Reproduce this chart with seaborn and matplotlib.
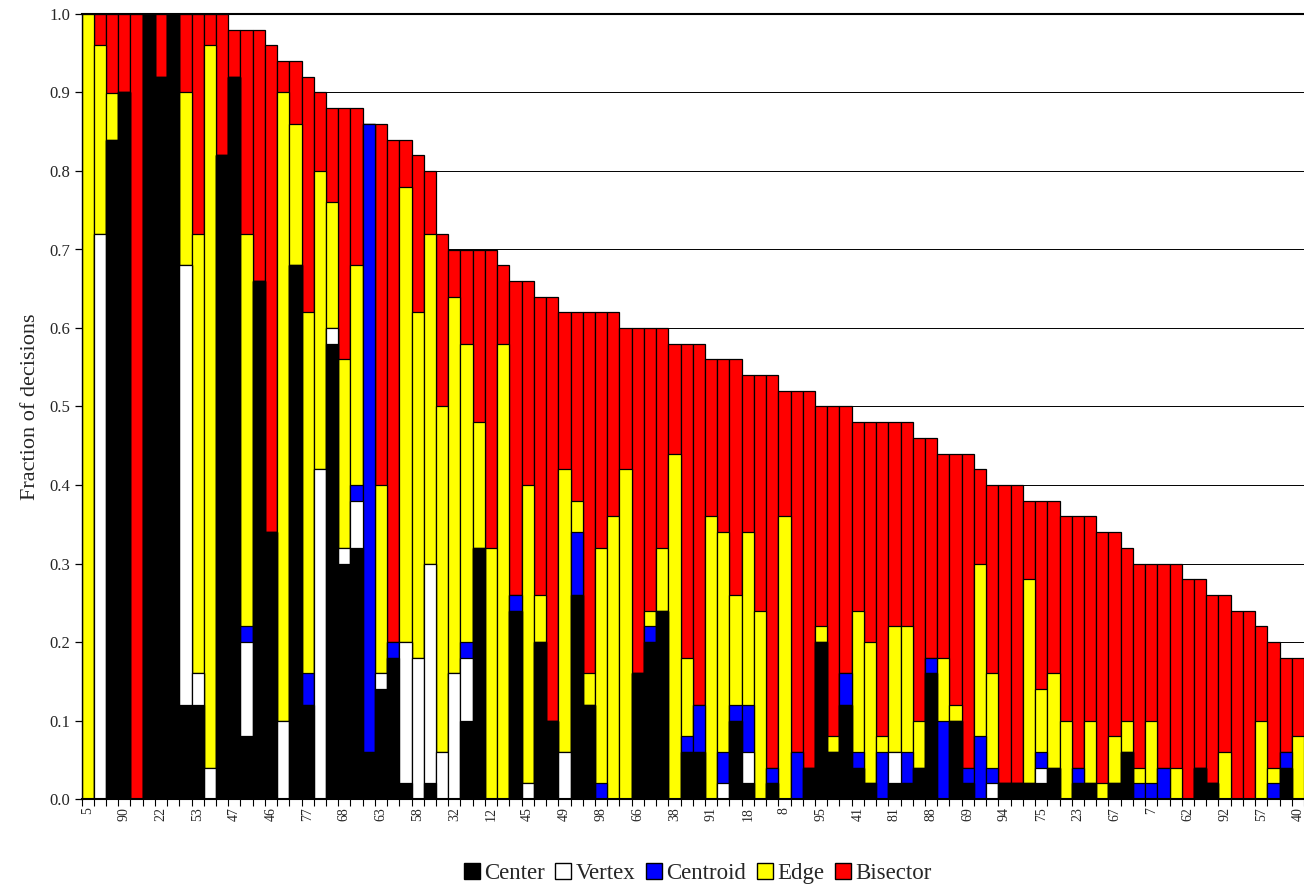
import numpy as np
import pandas as pd
import matplotlib
matplotlib.use("Agg")
import matplotlib.pyplot as plt
import seaborn as sns
from matplotlib.patches import Patch
from matplotlib.ticker import FixedLocator, MultipleLocator, FormatStrFormatter

# Labels printed under every third bar
tick_labels = ["5", "90", "22", "53", "47", "46", "77", "68", "63", "58", "32",
               "12", "45", "49", "98", "66", "38", "91", "18", "8", "95", "41",
               "81", "88", "69", "94", "75", "23", "67", "7", "62", "92", "57", "40"]

series_names = ["Center", "Vertex", "Centroid", "Edge", "Bisector"]
series_colors = ["#000000", "#FFFFFF", "#0000FF", "#FFFF00", "#FF0000"]

# Fraction of decisions per bar, one list per decision type (bottom to top)
center = [0, 0, .84, .90, 0, 1.00, .92, 1.00, .12, .12,
          0, .82, .92, .08, .66, .34, 0, .68, .12, 0,
          .58, .30, .32, .06, .14, .18, .02, 0, .02, 0,
          0, .10, .32, 0, 0, .24, 0, .20, .10, 0,
          .26, .12, 0, 0, 0, .16, .20, .24, 0, .06,
          .06, 0, 0, .10, .02, 0, .02, 0, 0, .04,
          .20, .06, .12, .04, .02, 0, .02, .02, .04, .16,
          0, .10, .02, 0, 0, .02, .02, .02, .02, .04,
          0, .02, .02, 0, .02, .06, 0, 0, 0, 0,
          0, .04, .02, 0, 0, 0, 0, 0, .04, 0]
vertex = [0, .72, 0, 0, 0, 0, 0, 0, .56, .04,
          .04, 0, 0, .12, 0, 0, .10, 0, 0, .42,
          .02, .02, .06, 0, .02, 0, .18, .18, .28, .06,
          .16, .08, 0, 0, 0, 0, .02, 0, 0, .06,
          0, 0, 0, 0, 0, 0, 0, 0, 0, 0,
          0, 0, .02, 0, .04, 0, 0, 0, 0, 0,
          0, 0, 0, 0, 0, 0, .04, 0, 0, 0,
          0, 0, 0, 0, .02, 0, 0, 0, .02, 0,
          0, 0, 0, 0, 0, 0, 0, 0, 0, 0,
          0, 0, 0, 0, 0, 0, 0, 0, 0, 0]
centroid = [0, 0, 0, 0, 0, 0, 0, 0, 0, 0,
            0, 0, 0, .02, 0, 0, 0, 0, .04, 0,
            0, 0, .02, .80, 0, .02, 0, 0, 0, 0,
            0, .02, 0, 0, 0, .02, 0, 0, 0, 0,
            .08, 0, .02, 0, 0, 0, .02, 0, 0, .02,
            .06, 0, .04, .02, .06, 0, .02, 0, .06, 0,
            0, 0, .04, .02, 0, .06, 0, .04, 0, .02,
            .10, 0, .02, .08, .02, 0, 0, 0, .02, 0,
            0, .02, 0, 0, 0, 0, .02, .02, .04, 0,
            0, 0, 0, 0, 0, 0, 0, .02, .02, 0]
edge = [1.00, .24, .06, 0, 0, 0, 0, 0, .22, .56,
        .92, 0, 0, .50, 0, 0, .80, .18, .46, .38,
        .16, .24, .28, 0, .24, 0, .58, .44, .42, .44,
        .48, .38, .16, .32, .58, 0, .38, .06, 0, .36,
        .04, .04, .30, .36, .42, 0, .02, .08, .44, .10,
        0, .36, .28, .14, .22, .24, 0, .36, 0, 0,
        .02, .02, 0, .18, .18, .02, .16, .16, .06, 0,
        .08, .02, 0, .22, .12, 0, 0, .26, .08, .12,
        .10, 0, .08, .02, .06, .04, .02, .08, 0, .04,
        0, 0, 0, .06, 0, 0, .10, .02, 0, .08]
bisector = [0, .04, .10, .10, 1.00, 0, .08, 0, .10, .28,
            .04, .18, .06, .26, .32, .62, .04, .08, .30, .10,
            .12, .32, .20, 0, .46, .64, .06, .20, .08, .22,
            .06, .12, .22, .38, .10, .40, .26, .38, .54, .20,
            .24, .46, .30, .26, .18, .44, .36, .28, .14, .40,
            .46, .20, .22, .30, .20, .30, .50, .16, .46, .48,
            .28, .42, .34, .24, .28, .40, .26, .26, .36, .28,
            .26, .32, .40, .12, .24, .38, .38, .10, .24, .22,
            .26, .32, .26, .32, .26, .22, .26, .20, .26, .26,
            .28, .24, .24, .20, .24, .24, .12, .16, .12, .10]

n_bars = len(center)
df = pd.DataFrame({"bar": np.arange(n_bars), "Center": center, "Vertex": vertex,
                   "Centroid": centroid, "Edge": edge, "Bisector": bisector})

# cumulative tops of each stacked layer
cum = df[series_names].cumsum(axis=1)
for name in series_names:
    df["top_" + name] = cum[name]

sns.set_style("white")
plt.rcParams["font.family"] = ["Liberation Serif", "DejaVu Serif"]

W, H = 1304, 888
fig = plt.figure(figsize=(W / 100, H / 100), dpi=100)
left, right, top, bottom = 81.5, 1304, 14, 799
ax = fig.add_axes([left / W, (H - bottom) / H, (right - left) / W, (bottom - top) / H])

# horizontal gridlines behind the bars
ax.set_axisbelow(True)
for v in np.arange(0.1, 1.0, 0.1):
    ax.axhline(v, color="#000000", linewidth=0.7, zorder=0)

# stacked bars: draw the tallest cumulative layer first, then overlay lower ones
for name, color in reversed(list(zip(series_names, series_colors))):
    sns.barplot(data=df, x="bar", y="top_" + name, color=color, saturation=1,
                width=1.0, edgecolor="black", linewidth=0.9, errorbar=None,
                ax=ax, zorder=2)

ax.set_xlim(-0.5, n_bars - 0.5)
ax.set_ylim(0, 1.0)

# y axis
ax.yaxis.set_major_locator(MultipleLocator(0.1))
ax.yaxis.set_major_formatter(FormatStrFormatter("%.1f"))
ax.tick_params(axis="y", direction="out", length=5, width=0.9, color="black",
               labelsize=12, pad=3, left=True)
ax.set_ylabel("Fraction of decisions", fontsize=16)
ax.yaxis.set_label_coords(-0.034, 0.5)

# x axis: labels under every third bar, ticks at bar boundaries
label_pos = np.arange(0, n_bars, 3)
ax.xaxis.set_major_locator(FixedLocator(label_pos))
ax.set_xticklabels(tick_labels, rotation=90, fontsize=10)
ax.xaxis.set_minor_locator(FixedLocator(np.arange(-0.5, n_bars, 1.0)))
ax.tick_params(axis="x", which="major", length=0, pad=6, bottom=True)
ax.tick_params(axis="x", which="minor", direction="out", length=5, width=0.8,
               color="black", bottom=True)
ax.set_xlabel("")

for side in ["left", "bottom", "top"]:
    ax.spines[side].set_visible(True)
    ax.spines[side].set_color("black")
ax.spines["left"].set_linewidth(1.0)
ax.spines["bottom"].set_linewidth(1.5)
ax.spines["top"].set_linewidth(1.5)
ax.spines["right"].set_visible(False)

handles = [Patch(facecolor=c, edgecolor="black", linewidth=1.0) for c in series_colors]
fig.legend(handles, series_names, loc="center", bbox_to_anchor=(0.535, 0.0165),
           ncol=5, frameon=False, fontsize=16.5, handlelength=0.7, handleheight=0.7,
           handletextpad=0.2, columnspacing=0.45, borderaxespad=0)

fig.savefig("out.png", dpi=100)
